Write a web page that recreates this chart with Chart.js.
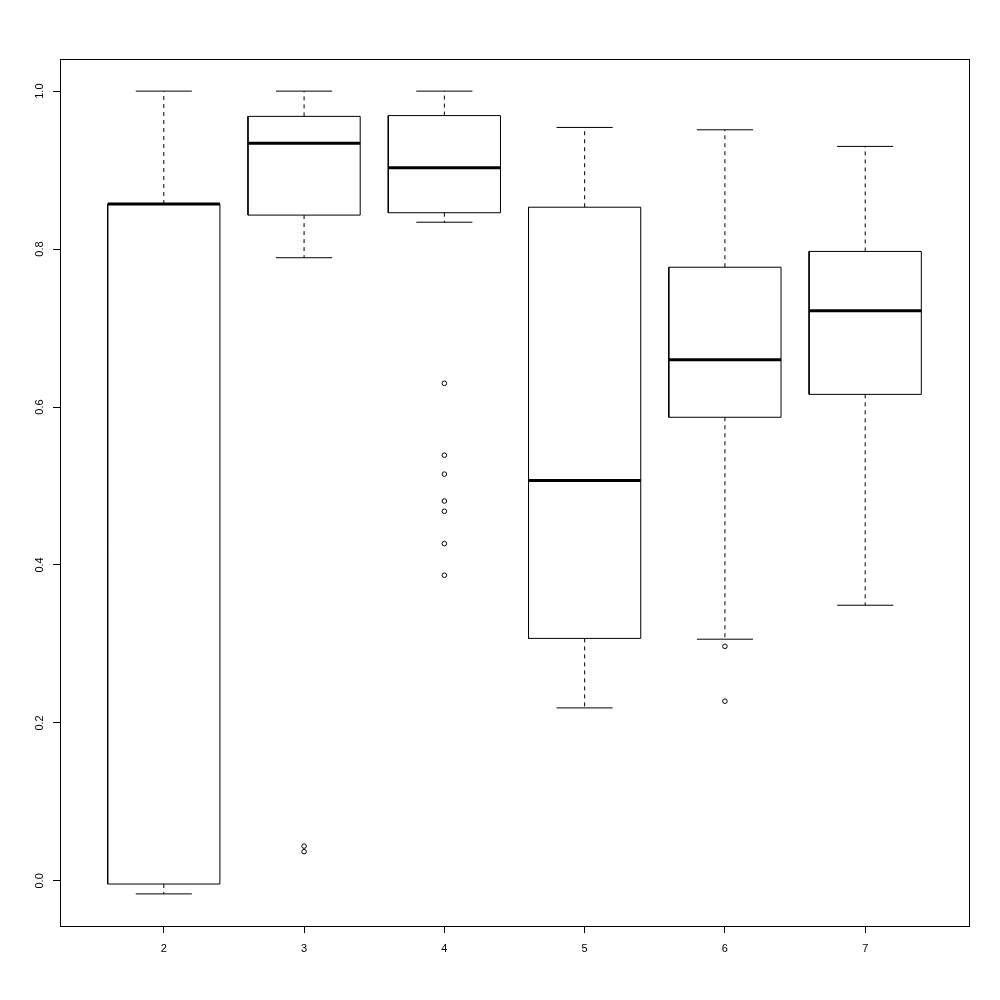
<!DOCTYPE html>
<html>
<head>
<meta charset="utf-8">
<script src="https://cdn.jsdelivr.net/npm/chart.js@4.4.1/dist/chart.umd.min.js"></script>
<style>
html, body { margin: 0; padding: 0; background: #ffffff; }
#wrap { width: 1000px; height: 1000px; position: relative; }
</style>
</head>
<body>
<div id="wrap"><canvas id="c" width="1000" height="1000"></canvas></div>
<script>
// ---- data ----
const categories  = ['2', '3', '4', '5', '6', '7'];
const whiskerLow  = [-0.0165, 0.789, 0.834, 0.219, 0.306, 0.349];
const q1          = [-0.004, 0.843, 0.846, 0.307, 0.587, 0.616];
const medians     = [0.857, 0.934, 0.903, 0.507, 0.660, 0.722];
const q3          = [0.857, 0.968, 0.969, 0.853, 0.777, 0.797];
const whiskerHigh = [1.000, 1.000, 1.000, 0.954, 0.951, 0.930];
const outliers    = [[], [0.044, 0.037], [0.630, 0.539, 0.515, 0.481, 0.468, 0.427, 0.387], [], [0.297, 0.2275], []];
const yTicks      = [0.0, 0.2, 0.4, 0.6, 0.8, 1.0];

// ---- build datasets from the arrays ----
const BOX_HALF = 0.4, CAP_HALF = 0.2;
const GAP = {x: NaN, y: null};
const boxPts = [], whiskPts = [], capPts = [], medPts = [], outPts = [];
categories.forEach((c, i) => {
  const x = i + 1;
  boxPts.push({x: x - BOX_HALF, y: q1[i]}, {x: x + BOX_HALF, y: q1[i]},
              {x: x + BOX_HALF, y: q3[i]}, {x: x - BOX_HALF, y: q3[i]},
              {x: x - BOX_HALF, y: q1[i]}, GAP);
  whiskPts.push({x: x, y: q3[i]}, {x: x, y: whiskerHigh[i]}, GAP,
                {x: x, y: q1[i]}, {x: x, y: whiskerLow[i]}, GAP);
  capPts.push({x: x - CAP_HALF, y: whiskerHigh[i]}, {x: x + CAP_HALF, y: whiskerHigh[i]}, GAP,
              {x: x - CAP_HALF, y: whiskerLow[i]}, {x: x + CAP_HALF, y: whiskerLow[i]}, GAP);
  medPts.push({x: x - BOX_HALF, y: medians[i]}, {x: x + BOX_HALF, y: medians[i]}, GAP);
  outliers[i].forEach(v => outPts.push({x: x, y: v}));
});

// y range: data range extended by 4% each side
const allVals = [].concat(whiskerLow, whiskerHigh, ...outliers);
const dMin = Math.min(...allVals), dMax = Math.max(...allVals);
const ext = (dMax - dMin) * 0.04;
const xMin = 0.5 - categories.length * 0.04, xMax = categories.length + 0.5 + categories.length * 0.04;

const lineDs = (data, width, dash, order) => ({
  data, showLine: true, spanGaps: false, borderColor: '#000', borderWidth: width,
  borderDash: dash, pointRadius: 0, pointHoverRadius: 0, fill: false, tension: 0, order
});

const frame = {
  id: 'frame',
  afterDraw(chart) {
    const {ctx, chartArea: a, scales} = chart;
    ctx.save();
    ctx.strokeStyle = '#000';
    ctx.lineWidth = 1;
    ctx.strokeRect(Math.round(a.left) + 0.5, Math.round(a.top) + 0.5,
                   Math.round(a.right - a.left), Math.round(a.bottom - a.top));
    // rotated y tick labels (R style)
    ctx.fillStyle = '#000';
    ctx.font = '11px "Liberation Sans", Arial, sans-serif';
    ctx.textAlign = 'center';
    ctx.textBaseline = 'middle';
    yTicks.forEach(v => {
      const y = scales.y.getPixelForValue(v);
      ctx.save();
      ctx.translate(39.5, y);
      ctx.rotate(-Math.PI / 2);
      ctx.fillText(v.toFixed(1), 0, 0);
      ctx.restore();
    });
    ctx.restore();
  }
};

new Chart(document.getElementById('c'), {
  type: 'scatter',
  data: {
    datasets: [
      lineDs(medPts, 3, [], 1),
      lineDs(boxPts, 1, [], 2),
      lineDs(capPts, 1, [], 3),
      lineDs(whiskPts, 1, [4, 4], 4),
      { data: outPts, showLine: false, pointRadius: 2.3, pointStyle: 'circle',
        pointBorderColor: '#000', pointBackgroundColor: 'rgba(0,0,0,0)', pointBorderWidth: 1,
        pointHoverRadius: 2.3, order: 0 }
    ]
  },
  options: {
    responsive: false,
    animation: false,
    events: [],
    layout: { padding: { top: 59, right: 31, left: 0, bottom: 0 } },
    plugins: { legend: { display: false }, tooltip: { enabled: false } },
    scales: {
      x: {
        type: 'linear', min: xMin, max: xMax,
        afterBuildTicks: s => { s.ticks = categories.map((c, i) => ({value: i + 1})); },
        afterFit: s => { s.height = 74; },
        border: { display: false },
        grid: { display: true, drawOnChartArea: false, drawTicks: true, tickLength: 7, color: '#000', lineWidth: 1 },
        ticks: {
          color: '#000', padding: 9, maxRotation: 0, autoSkip: false,
          font: { family: '"Liberation Sans", Arial, sans-serif', size: 11 },
          callback: (v) => categories[Math.round(v) - 1]
        }
      },
      y: {
        type: 'linear', min: dMin - ext, max: dMax + ext,
        afterBuildTicks: s => { s.ticks = yTicks.map(v => ({value: v})); },
        afterFit: s => { s.width = 60; },
        border: { display: false },
        grid: { display: true, drawOnChartArea: false, drawTicks: true, tickLength: 7, color: '#000', lineWidth: 1 },
        ticks: { display: false }
      }
    }
  },
  plugins: [frame]
});
</script>
</body>
</html>
